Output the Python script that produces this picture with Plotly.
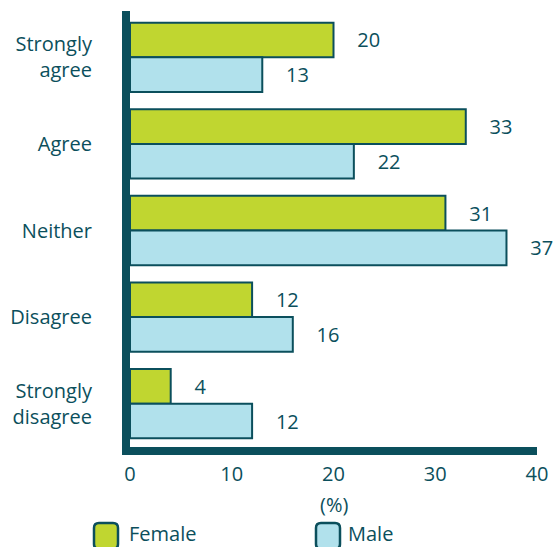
import plotly.graph_objects as go

categories = ["Strongly<br>agree", "Agree", "Neither", "Disagree", "Strongly<br>disagree"]
female = [20, 33, 31, 12, 4]
male = [13, 22, 37, 16, 12]
x_ticks = [0, 10, 20, 30, 40]
series = ["Female", "Male"]

DARK = "#0b4f5c"
GREEN = "#c0d630"
BLUE = "#b1e1ec"
FONT = "Open Sans"
FS = 20
NBSP = "\u00a0" * 4

W, H = 553, 547
L, R, T, B = 130, 16, 14, 100
PW, PH = W - L - R, H - T - B


def px_x(px):
    return (px - L) / PW


def px_y(py):
    return (H - B - py) / PH


def rounded_box(x0, y0, x1, y1, r):
    X = lambda v: f"{px_x(v):.5f}"
    Y = lambda v: f"{px_y(v):.5f}"
    return (f"M{X(x0 + r)},{Y(y0)} L{X(x1 - r)},{Y(y0)} Q{X(x1)},{Y(y0)} {X(x1)},{Y(y0 + r)} "
            f"L{X(x1)},{Y(y1 - r)} Q{X(x1)},{Y(y1)} {X(x1 - r)},{Y(y1)} "
            f"L{X(x0 + r)},{Y(y1)} Q{X(x0)},{Y(y1)} {X(x0)},{Y(y1 - r)} "
            f"L{X(x0)},{Y(y0 + r)} Q{X(x0)},{Y(y0)} {X(x0 + r)},{Y(y0)} Z")


fig = go.Figure()
for name, vals, col in [(series[0], female, GREEN), (series[1], male, BLUE)]:
    fig.add_trace(go.Bar(
        y=categories, x=vals, orientation="h", name=name,
        marker=dict(color=col, line=dict(color=DARK, width=2)),
        text=[NBSP + str(v) for v in vals], textposition="outside",
        outsidetextfont=dict(family=FONT, size=FS, color=DARK),
        constraintext="none", cliponaxis=False, showlegend=False,
    ))

# legend drawn as rounded boxes + labels
legend_box_x = [94, 316]
legend_text_x = [127, 346]
shapes, annotations = [], []
for bx, tx, name, col in zip(legend_box_x, legend_text_x, series, [GREEN, BLUE]):
    shapes.append(dict(type="path", xref="paper", yref="paper",
                       path=rounded_box(bx, 523, bx + 24, 549, 5),
                       fillcolor=col, line=dict(color=DARK, width=2.5)))
    annotations.append(dict(xref="paper", yref="paper", x=px_x(tx), y=px_y(533),
                            xanchor="left", yanchor="middle", showarrow=False,
                            text=name, font=dict(family=FONT, size=FS, color=DARK)))
# axis title
annotations.append(dict(xref="x", yref="paper", x=20, y=px_y(504),
                        xanchor="center", yanchor="middle", showarrow=False,
                        text="(%)", font=dict(family=FONT, size=FS, color=DARK)))
# extend the vertical axis line slightly above the plot top
shapes.append(dict(type="line", xref="paper", yref="paper",
                   x0=px_x(126), x1=px_x(126), y0=1, y1=px_y(11),
                   line=dict(color=DARK, width=8)))

fig.update_layout(
    width=W, height=H,
    margin=dict(l=L, r=R, t=T, b=B, autoexpand=False),
    plot_bgcolor="white", paper_bgcolor="white",
    barmode="group", bargap=0.2, bargroupgap=0,
    font=dict(family=FONT, size=FS, color=DARK),
    showlegend=False,
    shapes=shapes, annotations=annotations,
    xaxis=dict(range=[0, 40], tickvals=x_ticks, showgrid=False, zeroline=False,
               showline=True, linecolor=DARK, linewidth=8, automargin=False,
               ticks="", ticklabelstandoff=2, tickfont=dict(size=FS)),
    yaxis=dict(autorange="reversed", showgrid=False, zeroline=False,
               showline=True, linecolor=DARK, linewidth=8, automargin=False,
               ticks="outside", ticklen=26, tickcolor="rgba(0,0,0,0)",
               tickfont=dict(size=FS)),
)

fig.write_html("out.html", config={"displayModeBar": False},
               post_script="document.body.style.margin='0';")
